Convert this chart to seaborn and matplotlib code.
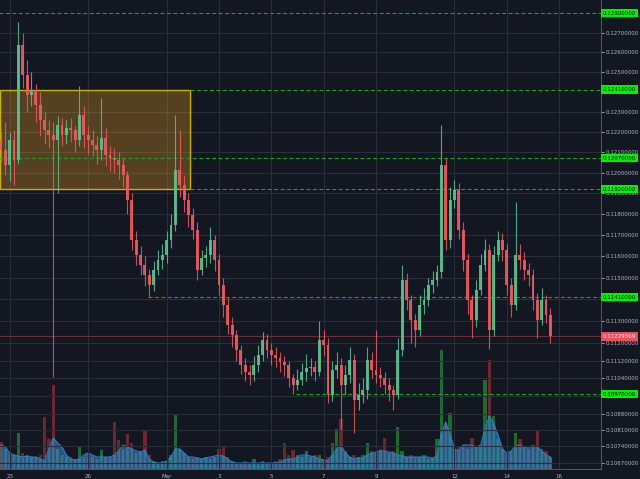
import pandas as pd
import matplotlib
matplotlib.use('Agg')
import matplotlib.pyplot as plt
import matplotlib.dates as mdates
import matplotlib.transforms as mtransforms
from matplotlib.patches import Rectangle
from matplotlib.ticker import FixedLocator, NullLocator, FuncFormatter
import seaborn as sns

# 4h candles, first one at Feb 22 16:00
first_open = 0.12160
close = [0.12111, 0.12037, 0.12160, 0.12062, 0.12636, 0.12484, 0.12383, 0.12408, 0.12333, 0.12259,
         0.12209, 0.12184, 0.12160, 0.12234, 0.12184, 0.12219, 0.12209, 0.12160, 0.12283, 0.12184,
         0.12160, 0.12135, 0.12111, 0.12170, 0.12086, 0.12072, 0.12062, 0.12037, 0.11988, 0.11868,
         0.11677, 0.11606, 0.11560, 0.11513, 0.11467, 0.11536, 0.11583, 0.11606, 0.11677, 0.11748,
         0.12013, 0.11940, 0.11868, 0.11796, 0.11725, 0.11536, 0.11592, 0.11606, 0.11677, 0.11583,
         0.11467, 0.11374, 0.11282, 0.11236, 0.11168, 0.11100, 0.11069, 0.11056, 0.11100, 0.11146,
         0.11214, 0.11168, 0.11146, 0.11132, 0.11114, 0.11100, 0.11043, 0.11011, 0.11034, 0.11069,
         0.11087, 0.11091, 0.11069, 0.11214, 0.11191, 0.10967, 0.11078, 0.11100, 0.11011, 0.11056,
         0.11123, 0.10945, 0.10967, 0.10989, 0.11123, 0.11078, 0.11056, 0.11043, 0.11011, 0.10989,
         0.10967, 0.11168, 0.11490, 0.11397, 0.11305, 0.11259, 0.11374, 0.11397, 0.11467, 0.11490,
         0.11527, 0.12037, 0.11677, 0.11868, 0.11916, 0.11725, 0.11583, 0.11397, 0.11305, 0.11443,
         0.11560, 0.11630, 0.11259, 0.11606, 0.11677, 0.11630, 0.11467, 0.11374, 0.11606, 0.11583,
         0.11536, 0.11513, 0.11397, 0.11305, 0.11397, 0.11328, 0.11229]
high = [0.12200, 0.12250, 0.12200, 0.12210, 0.12755, 0.12700, 0.12560, 0.12500, 0.12440, 0.12400,
        0.12300, 0.12260, 0.12250, 0.12280, 0.12270, 0.12260, 0.12270, 0.12230, 0.12430, 0.12330,
        0.12230, 0.12210, 0.12180, 0.12370, 0.12220, 0.12130, 0.12120, 0.12100, 0.12070, 0.12010,
        0.11900, 0.11720, 0.11650, 0.11600, 0.11540, 0.11580, 0.11630, 0.11660, 0.11720, 0.11800,
        0.12283, 0.12210, 0.11990, 0.11900, 0.11830, 0.11760, 0.11630, 0.11650, 0.11740, 0.11700,
        0.11610, 0.11500, 0.11410, 0.11320, 0.11260, 0.11190, 0.11130, 0.11100, 0.11140, 0.11190,
        0.11250, 0.11240, 0.11200, 0.11180, 0.11160, 0.11140, 0.11120, 0.11060, 0.11080, 0.11110,
        0.11150, 0.11130, 0.11120, 0.11300, 0.11260, 0.11220, 0.11120, 0.11160, 0.11130, 0.11100,
        0.11180, 0.11150, 0.11020, 0.11040, 0.11180, 0.11160, 0.11259, 0.11090, 0.11070, 0.11040,
        0.11010, 0.11220, 0.11560, 0.11520, 0.11420, 0.11330, 0.11420, 0.11450, 0.11500, 0.11530,
        0.11560, 0.12234, 0.12070, 0.11930, 0.11964, 0.11950, 0.11760, 0.11610, 0.11420, 0.11490,
        0.11610, 0.11680, 0.11660, 0.11650, 0.11720, 0.11710, 0.11660, 0.11500, 0.11858, 0.11660,
        0.11620, 0.11570, 0.11540, 0.11430, 0.11450, 0.11420, 0.11360]
low = [0.12050, 0.11990, 0.11960, 0.11940, 0.12040, 0.12420, 0.12300, 0.12330, 0.12250, 0.12180,
       0.12140, 0.12120, 0.11047, 0.11900, 0.12130, 0.12140, 0.12150, 0.12100, 0.12130, 0.12120,
       0.12090, 0.12080, 0.12040, 0.12060, 0.12030, 0.12010, 0.12000, 0.11970, 0.11930, 0.11800,
       0.11630, 0.11560, 0.11510, 0.11460, 0.11410, 0.11440, 0.11510, 0.11540, 0.11570, 0.11640,
       0.11720, 0.11880, 0.11810, 0.11740, 0.11680, 0.11490, 0.11510, 0.11550, 0.11570, 0.11530,
       0.11420, 0.11320, 0.11240, 0.11180, 0.11120, 0.11060, 0.11030, 0.11010, 0.11030, 0.11070,
       0.11120, 0.11130, 0.11100, 0.11090, 0.11070, 0.11050, 0.11000, 0.10970, 0.10990, 0.11010,
       0.11030, 0.11050, 0.11030, 0.11050, 0.11140, 0.10930, 0.10940, 0.11040, 0.10812, 0.10970,
       0.11020, 0.10800, 0.10900, 0.10930, 0.10950, 0.11040, 0.11020, 0.11000, 0.10970, 0.10940,
       0.10900, 0.10950, 0.11140, 0.11350, 0.11200, 0.11180, 0.11230, 0.11330, 0.11370, 0.11430,
       0.11460, 0.11500, 0.11630, 0.11640, 0.11830, 0.11680, 0.11530, 0.11330, 0.11220, 0.11270,
       0.11420, 0.11530, 0.11170, 0.11230, 0.11580, 0.11580, 0.11420, 0.11320, 0.11350, 0.11540,
       0.11490, 0.11460, 0.11350, 0.11220, 0.11280, 0.11290, 0.11200]
volume = [27, 20, 15, 14, 36, 16, 14, 12, 12, 14, 52, 30, 84, 20, 14, 12, 12, 10, 22, 12,
          16, 12, 10, 19, 12, 12, 47, 29, 20, 35, 26, 16, 18, 38, 14, 8, 6, 8, 8, 14,
          54, 20, 16, 12, 10, 12, 10, 12, 10, 12, 20, 23, 12, 8, 6, 6, 8, 6, 10, 6,
          8, 6, 6, 8, 10, 26, 14, 19, 14, 12, 18, 12, 14, 14, 10, 12, 26, 40, 50, 18,
          12, 14, 12, 14, 26, 18, 16, 20, 31, 16, 18, 42, 18, 12, 14, 12, 12, 14, 10, 12,
          30, 119, 45, 56, 20, 22, 24, 20, 31, 22, 24, 89, 109, 53, 30, 20, 16, 18, 36, 30,
          22, 20, 24, 38, 20, 18, 12]
volume_ma = [24, 22, 16, 14, 13, 12, 13, 12, 12, 10, 8, 20, 31, 26, 22, 14, 10, 9, 10, 14,
             16, 14, 12, 12, 12, 12, 14, 18, 24, 22, 20, 18, 17, 19, 10, 7, 6, 6, 8, 12,
             20, 20, 16, 12, 12, 11, 10, 11, 12, 13, 14, 13, 10, 7, 6, 6, 6, 6, 6, 6,
             6, 6, 6, 6, 7, 9, 10, 10, 12, 14, 14, 13, 12, 10, 9, 8, 14, 20, 23, 16,
             12, 10, 11, 11, 14, 16, 17, 18, 18, 17, 16, 14, 13, 12, 12, 12, 12, 12, 12, 10,
             14, 36, 47, 34, 20, 18, 24, 24, 24, 22, 24, 40, 53, 45, 34, 20, 16, 18, 23, 24,
             22, 22, 23, 22, 18, 14, 12]

levels = [0.12800, 0.12410, 0.12070, 0.11920, 0.11410, 0.10970]
level_starts = ['2018-02-22 12:00', '2018-03-01 21:00', '2018-02-22 12:00',
                '2018-03-01 21:00', '2018-02-28 06:40', '2018-03-05 23:00']
last_price = 0.11229369
box_top, box_bottom = 0.12410, 0.11920
box_end = '2018-03-01 21:00'

price_ticks = [0.127, 0.126, 0.125, 0.123, 0.122, 0.121, 0.120, 0.119, 0.118, 0.117, 0.116,
               0.115, 0.114, 0.113, 0.112, 0.1112, 0.1104, 0.1096, 0.1088, 0.1081, 0.1074, 0.1067]
hidden_ticks = [0.114, 0.1096]
date_ticks = ['2018-02-23', '2018-02-26', '2018-03-01', '2018-03-03', '2018-03-05',
              '2018-03-07', '2018-03-09', '2018-03-12', '2018-03-14', '2018-03-16']
date_labels = ['23', '26', 'Mar', '3', '5', '7', '9', '12', '14', '16']

bg = '#131722'
grid_c = '#2a2e39'
txt_c = '#b2b5be'
up_c = '#5fc08e'
down_c = '#ef5a5f'

sns.set_theme(style='dark', rc={'axes.facecolor': bg, 'figure.facecolor': bg})

dates = pd.date_range('2018-02-22 16:00', periods=len(close), freq='4h')
x = mdates.date2num(dates)
opens = [first_open] + close[:-1]
colors = [up_c if c >= o else down_c for o, c in zip(opens, close)]

fig = plt.figure(figsize=(6.4, 4.79), dpi=100)
ax = fig.add_axes([0.0, 10 / 479, 601 / 640, 469 / 479])
ax2 = ax.twinx()
ax.set_zorder(2)
ax2.set_zorder(1)
ax.patch.set_visible(False)
ax2.set_facecolor(bg)

xmin = mdates.date2num(pd.Timestamp('2018-02-22 15:07'))
xmax = mdates.date2num(pd.Timestamp('2018-03-17 14:24'))

# volume panel
vol_colors = ['#1d6b30' if c == up_c else '#6e2630' for c in colors]
ax2.bar(x, volume, width=0.13, color=vol_colors, edgecolor='none', lw=0, zorder=1)
ax2.fill_between(x, volume_ma, color='#2a6aa6', alpha=0.75, lw=0, zorder=2)
sns.lineplot(x=x, y=volume_ma, ax=ax2, color='#2f7cc0', lw=0.8, zorder=3)
ax2.bar(x, [min(v, m) for v, m in zip(volume, volume_ma)], width=0.09, color='#3f8f9a',
        alpha=0.45, edgecolor='none', lw=0, zorder=4)
ax2.set_ylim(0, 469)
ax2.set_yticks([])
ax2.set_ylabel('')
for s in ax2.spines.values():
    s.set_visible(False)

# price panel
ax.set_yscale('log')
ax.set_ylim(0.10642, 0.12869)
ax.set_xlim(xmin, xmax)

box_w = mdates.date2num(pd.Timestamp(box_end)) - xmin
ax.add_patch(Rectangle((xmin, box_bottom), box_w, box_top - box_bottom,
                       facecolor='#f0a020', alpha=0.3, lw=0, zorder=1))
ax.add_patch(Rectangle((xmin, box_bottom), box_w, box_top - box_bottom,
                       facecolor='none', edgecolor='#c8b400', lw=1.0, zorder=2))

for lv, st in zip(levels, level_starts):
    ax.hlines(lv, mdates.date2num(pd.Timestamp(st)), xmax, colors='#1fa01f',
              linestyles=(0, (3.6, 2.2)), lw=0.8, zorder=3)
ax.axhline(last_price, color='#b03a48', lw=0.8, alpha=0.6, zorder=3)

ax.vlines(x, low, high, colors=colors, lw=0.8, alpha=0.85, zorder=4)
body_lo = [min(o, c) for o, c in zip(opens, close)]
body_h = [max(abs(c - o), 0.00002) for o, c in zip(opens, close)]
ax.bar(x, body_h, bottom=body_lo, width=0.11, color=colors, alpha=0.9,
       edgecolor='none', lw=0, zorder=5)

ax.yaxis.tick_right()
ax.yaxis.set_major_locator(FixedLocator(price_ticks))
ax.yaxis.set_minor_locator(NullLocator())
ax.yaxis.set_major_formatter(FuncFormatter(
    lambda v, p: '' if any(abs(v - h) < 1e-7 for h in hidden_ticks) else f'{v:.8f}'))
ax.set_xticks(mdates.date2num(pd.to_datetime(date_ticks)))
ax.set_xticklabels(date_labels)
ax.tick_params(axis='both', colors=txt_c, labelsize=4.0, length=2, width=0.6, pad=1.5)
ax.grid(True, color=grid_c, lw=0.8)
ax.set_axisbelow(True)
for name, s in ax.spines.items():
    s.set_visible(name in ('right', 'bottom'))
    s.set_color('#50535e')
    s.set_linewidth(0.8)

trans = mtransforms.blended_transform_factory(ax.transAxes, ax.transData)
for lv in levels:
    ax.text(1.003, lv, f'{lv:.8f}', transform=trans, ha='left', va='center', fontsize=4.0,
            color='black', zorder=10, clip_on=False,
            bbox=dict(boxstyle='square,pad=0.3', facecolor='#00f000', edgecolor='none'))
ax.text(1.003, last_price, f'{last_price:.8f}', transform=trans, ha='left', va='center',
        fontsize=4.0, color='#fde0e3', zorder=10, clip_on=False,
        bbox=dict(boxstyle='square,pad=0.3', facecolor='#e8505c', edgecolor='none'))

fig.savefig('out.png', dpi=100, facecolor=bg)
